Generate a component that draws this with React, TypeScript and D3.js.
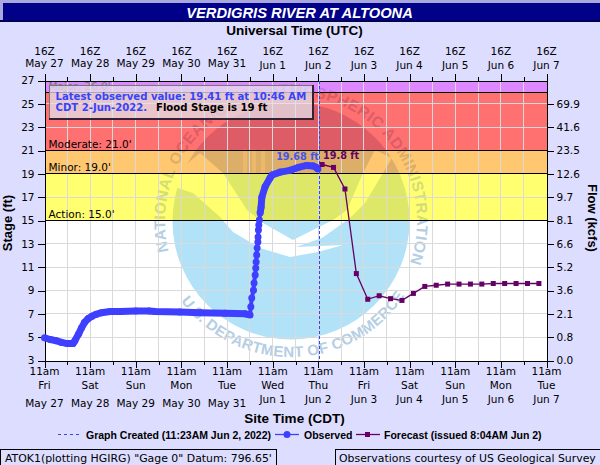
import { useEffect, useRef } from "react";
import * as d3 from "d3";

// hours counted from 11am CDT May 27
const obsHours = [0, 3, 6, 9, 12, 15, 16, 18, 19.5, 21, 23, 25, 27, 30, 34.5, 40, 48, 55, 58, 71, 82, 95, 105.5, 107, 108.1, 108.5, 109, 109.9, 110.2, 110.8, 111.1, 111.3, 111.6, 111.8, 112.2, 112.3, 112.5, 112.7, 113, 113.4, 113.9, 114.3, 116, 118.6, 119.7, 124, 129.2, 133.4, 137.9, 141.3, 143, 143.8];
const obsStage = [4.95, 4.8, 4.7, 4.55, 4.45, 4.45, 4.7, 5.3, 5.8, 6.25, 6.6, 6.8, 6.95, 7.1, 7.2, 7.2, 7.25, 7.25, 7.2, 7.15, 7.1, 7.05, 7.0, 6.95, 6.9, 7.6, 8.35, 9.03, 9.64, 10.32, 10.92, 11.44, 12.04, 12.64, 13.15, 13.58, 14.19, 14.61, 15.04, 15.65, 16.16, 17.0, 17.9, 18.65, 18.9, 19.15, 19.3, 19.55, 19.72, 19.68, 19.55, 19.41];

const fcstHours = [146, 152, 158, 164, 170, 176, 182, 188, 194, 200, 206, 212, 218, 224, 230, 236, 242, 248, 254, 260];
const fcstStage = [19.8, 19.55, 17.7, 10.45, 8.25, 8.55, 8.3, 8.15, 8.75, 9.35, 9.45, 9.55, 9.55, 9.55, 9.55, 9.6, 9.6, 9.6, 9.6, 9.6];

const createdHour = 144.4;

const stageTicks = [3, 5, 7, 9, 11, 13, 15, 17, 19, 21, 23, 25, 27];
const flowLabels = ["0.0", "0.8", "2.1", "3.6", "5.2", "6.6", "8.1", "9.7", "12.6", "23.5", "41.6", "69.9"];

const dayDates = ["May 27", "May 28", "May 29", "May 30", "May 31", "Jun 1", "Jun 2", "Jun 3", "Jun 4", "Jun 5", "Jun 6", "Jun 7"];
const dayNames = ["Fri", "Sat", "Sun", "Mon", "Tue", "Wed", "Thu", "Fri", "Sat", "Sun", "Mon", "Tue"];

const stageNames = ["Major", "Moderate", "Minor", "Action"];
const stageLevels = [26, 21, 19, 15];

const bands = [
  { lo: 26, hi: 27, fill: "#DD88FF", mark: "#C078E4", dome: "#C078E4", disc: "#C078E4" },
  { lo: 21, hi: 26, fill: "#FF7070", mark: "#DD5C66", dome: "#DD5C66", disc: "#DD5C66" },
  { lo: 19, hi: 21, fill: "#FFC870", mark: "#DDAE68", dome: "#DDAE68", disc: "#DDAE68" },
  { lo: 15, hi: 19, fill: "#FFFF70", mark: "#D4DC78", dome: "#DEE868", disc: "#DEE868" },
  { lo: 3, hi: 15, fill: "#FFFFFF", mark: "#B4CEE4", dome: "#B2CBE2", disc: "#B2E2F7" },
];

// NOAA watermark, page pixels
const logoC = { x: 291, y: 221, r: 118.5 };
const swoosh: [number, number][] = [
  [175, 187], [182, 168], [200, 153], [223, 173], [247, 210], [263, 223], [293, 240], [317, 228], [333, 220], [347, 210], [363, 173], [375, 150],
  [392, 158], [365, 203], [350, 218], [322, 238], [296, 247], [343, 245], [318, 252], [290, 257], [260, 248], [233, 232], [220, 217], [193, 193],
];
const logoBars = [243, 252, 261];

const BG = "#DDDDFF";
const FONT = "'DejaVu Sans', sans-serif";
const BOLD = "'Liberation Sans', Arial, sans-serif";

export default function App() {
  const svgRef = useRef<SVGSVGElement>(null);

  useEffect(() => {
    if (!svgRef.current) return;
    const svg = d3.select(svgRef.current);
    svg.selectAll("*").remove();

    const left = 44.5, right = 546.5, top = 80.5, bottom = 360.5;
    const x = d3.scaleLinear().domain([0, 264]).range([left, right]);
    const y = d3.scaleLinear().domain([3, 27]).range([bottom, top]);
    const dayTicks = d3.range(0, 265, 24);
    const halfTicks = d3.range(0, 265, 12);

    svg.append("rect").attr("width", 600).attr("height", 465).attr("fill", BG);

    // title bar
    svg.append("rect").attr("width", 600).attr("height", 3).attr("fill", "#A8A8DC");
    svg.append("rect").attr("width", 3).attr("height", 21).attr("fill", "#A8A8DC");
    svg.append("rect").attr("x", 3).attr("y", 3).attr("width", 597).attr("height", 17).attr("fill", "#000088");
    svg.append("rect").attr("x", 0).attr("y", 20).attr("width", 600).attr("height", 2).attr("fill", "#000050");
    svg.append("text").attr("x", 299.5).attr("y", 17.5).attr("text-anchor", "middle")
      .attr("font-family", BOLD).attr("font-weight", 700).attr("font-style", "italic").attr("font-size", 14.7)
      .attr("fill", "#fff").text("VERDIGRIS RIVER AT ALTOONA");

    // flood bands
    bands.forEach((b) => {
      svg.append("rect").attr("x", left).attr("y", y(b.hi)).attr("width", right - left)
        .attr("height", y(b.lo) - y(b.hi)).attr("fill", b.fill).attr("shape-rendering", "crispEdges");
    });

    // watermark, one pass per band because it tints each band differently
    const defs = svg.append("defs");
    const polar = (r: number, deg: number) => {
      const a = (deg * Math.PI) / 180;
      return [logoC.x + r * Math.sin(a), logoC.y - r * Math.cos(a)];
    };
    const topA = polar(126, -104), topB = polar(126, 112);
    defs.append("path").attr("id", "arcTop").attr("d", `M${topA[0]},${topA[1]} A126,126 0 1 1 ${topB[0]},${topB[1]}`);
    const lowA = polar(136, -126), lowB = polar(136, 122);
    defs.append("path").attr("id", "arcLow").attr("d", `M${lowA[0]},${lowA[1]} A136,136 0 0 0 ${lowB[0]},${lowB[1]}`);

    bands.forEach((b, i) => {
      defs.append("clipPath").attr("id", `band${i}`).append("rect")
        .attr("x", left).attr("y", y(b.hi)).attr("width", right - left).attr("height", y(b.lo) - y(b.hi));
      const g = svg.append("g").attr("clip-path", `url(#band${i})`);
      g.append("circle").attr("cx", logoC.x).attr("cy", logoC.y).attr("r", logoC.r).attr("fill", b.disc);
      g.append("path").attr("d", d3.line()(swoosh)!).attr("fill", b.fill);
      logoBars.forEach((bx) => {
        g.append("rect").attr("x", bx).attr("y", 149).attr("width", 4).attr("height", 24).attr("fill", b.fill).attr("opacity", 0.45);
      });
      const t = g.append("text").attr("font-family", BOLD).attr("font-weight", 700).attr("font-size", 15.5)
        .attr("letter-spacing", 0.5).attr("fill", b.mark);
      t.append("textPath").attr("href", "#arcTop")
        .text("NATIONAL OCEANIC AND ATMOSPHERIC ADMINISTRATION");
      const t2 = g.append("text").attr("font-family", BOLD).attr("font-weight", 700).attr("font-size", 15)
        .attr("letter-spacing", 0.3).attr("fill", b.mark);
      t2.append("textPath").attr("href", "#arcLow")
        .text("U.S. DEPARTMENT OF COMMERCE");
    });

    // grid
    const grid = svg.append("g").attr("stroke", "#DADADA").attr("shape-rendering", "crispEdges").attr("stroke-width", 1);
    halfTicks.slice(1, -1).forEach((h) => {
      grid.append("line").attr("x1", x(h)).attr("x2", x(h)).attr("y1", top).attr("y2", bottom);
    });
    stageTicks.slice(1, -1).forEach((s) => {
      grid.append("line").attr("x1", left).attr("x2", right).attr("y1", y(s)).attr("y2", y(s));
    });

    // stage thresholds
    stageLevels.forEach((s, i) => {
      svg.append("line").attr("x1", left).attr("x2", right).attr("y1", y(s)).attr("y2", y(s))
        .attr("stroke", "#000").attr("stroke-width", 1).attr("shape-rendering", "crispEdges");
      svg.append("text").attr("x", 48.5).attr("y", y(s) - 2.5).attr("font-family", FONT).attr("font-size", 10.5)
        .attr("fill", i === 0 ? "#777" : "#000").text(`${stageNames[i]}: ${s.toFixed(1)}'`);
    });

    // axes
    const styleAxis = (g: d3.Selection<SVGGElement, unknown, null, undefined>) => {
      g.selectAll("text").attr("font-family", FONT).attr("font-size", 10.5).attr("fill", "#000");
      g.selectAll("path,line").attr("stroke", "#000").attr("shape-rendering", "crispEdges");
    };
    svg.append<SVGGElement>("g").attr("transform", `translate(${left},0)`)
      .call(d3.axisLeft(y).tickValues(stageTicks).tickSize(7).tickSizeOuter(0).tickPadding(3).tickFormat((d) => String(d)))
      .call(styleAxis);
    svg.append<SVGGElement>("g").attr("transform", `translate(${right},0)`)
      .call(d3.axisRight(y).tickValues(stageTicks.slice(0, -1)).tickSize(7).tickSizeOuter(0).tickPadding(3).tickFormat((_, i) => flowLabels[i]))
      .call(styleAxis);
    const hAxis = (gen: d3.Axis<d3.NumberValue>, yPos: number) => {
      svg.append<SVGGElement>("g").attr("transform", `translate(0,${yPos})`)
        .call(gen.tickValues(halfTicks).tickSize(4).tickSizeOuter(0).tickFormat(() => ""))
        .call(styleAxis);
      svg.append<SVGGElement>("g").attr("transform", `translate(0,${yPos})`)
        .call(gen.tickValues(dayTicks).tickSize(7).tickSizeOuter(0).tickFormat(() => ""))
        .call(styleAxis);
    };
    hAxis(d3.axisTop(x), top);
    hAxis(d3.axisBottom(x), bottom);

    const label = (tx: number, ty: number, s: string) =>
      svg.append("text").attr("x", tx).attr("y", ty).attr("text-anchor", "middle")
        .attr("font-family", FONT).attr("font-size", 10.5).attr("fill", "#000").text(s);
    dayTicks.forEach((h, i) => {
      const isMay = dayDates[i].startsWith("May");
      label(x(h), 55, "16Z");
      label(x(h), isMay ? 67 : 69, dayDates[i]);
      label(x(h), 375, "11am");
      label(x(h), 389, dayNames[i]);
      label(x(h), isMay ? 407 : 403, dayDates[i]);
    });

    const boldText = (tx: number, ty: number, s: string, size: number, anchor = "start") =>
      svg.append("text").attr("x", tx).attr("y", ty).attr("text-anchor", anchor)
        .attr("font-family", BOLD).attr("font-weight", 700).attr("font-size", size).attr("fill", "#000").text(s);
    boldText(294.5, 35, "Universal Time (UTC)", 13.5, "middle");
    boldText(294.5, 423, "Site Time (CDT)", 13.5, "middle");
    boldText(0, 0, "Stage (ft)", 13, "middle").attr("transform", "translate(12,223) rotate(-90)");
    boldText(0, 0, "Flow (kcfs)", 13, "middle").attr("transform", "translate(588,218) rotate(90)");

    // graph created marker
    svg.append("line").attr("x1", x(createdHour)).attr("x2", x(createdHour)).attr("y1", top).attr("y2", bottom)
      .attr("stroke", "#3344FF").attr("stroke-width", 1).attr("stroke-dasharray", "3,2").attr("shape-rendering", "crispEdges");

    // observed: dense readings merge into a thick band except on the fast rise
    const BLUE = "#3F3FFF";
    const obs = obsHours.map((h, i) => [x(h), y(obsStage[i])] as [number, number]);
    const thick = (pts: [number, number][]) =>
      svg.append("path").attr("d", d3.line()(pts)!).attr("fill", "none").attr("stroke", BLUE)
        .attr("stroke-width", 7).attr("stroke-linejoin", "round");
    thick(obs.slice(0, 25));
    thick(obs.slice(39));
    svg.append("path").attr("d", d3.line()(obs.slice(24, 40))!).attr("fill", "none").attr("stroke", BLUE).attr("stroke-width", 4);
    obs.forEach(([cx, cy]) => {
      svg.append("circle").attr("cx", cx).attr("cy", cy).attr("r", 3.5).attr("fill", BLUE);
    });

    // forecast
    const PURPLE = "#660066";
    const fcst = fcstHours.map((h, i) => [x(h), y(fcstStage[i])] as [number, number]);
    svg.append("path").attr("d", d3.line()(fcst)!).attr("fill", "none").attr("stroke", PURPLE).attr("stroke-width", 1.3);
    fcst.forEach(([cx, cy]) => {
      svg.append("rect").attr("x", cx - 2.5).attr("y", cy - 2.5).attr("width", 5).attr("height", 5).attr("fill", PURPLE);
    });

    // point labels
    svg.append("text").attr("x", 319).attr("y", 160).attr("text-anchor", "end").attr("font-family", FONT)
      .attr("font-weight", 700).attr("font-size", 9.7).attr("fill", "#4455EE").text("19.68 ft");
    svg.append("text").attr("x", 323).attr("y", 159).attr("font-family", FONT)
      .attr("font-weight", 700).attr("font-size", 9.7).attr("fill", PURPLE).text("19.8 ft");

    // latest value box
    svg.append("rect").attr("x", 49.5).attr("y", 85.5).attr("width", 263).attr("height", 33)
      .attr("fill", "rgb(225,225,235)").attr("fill-opacity", 0.75).attr("stroke", "#777").attr("shape-rendering", "crispEdges");
    svg.append("path").attr("d", "M313,85V119H49").attr("fill", "none").attr("stroke", "#332233").attr("stroke-width", 2).attr("shape-rendering", "crispEdges");
    const boxFont = (s: d3.Selection<SVGTextElement, unknown, null, undefined>) =>
      s.attr("font-family", FONT).attr("font-weight", 700).attr("font-size", 10.1).attr("fill", "#3344FF");
    svg.append("text").attr("x", 55.5).attr("y", 100).call(boxFont).text("Latest observed value: 19.41  ft at 10:46 AM");
    const line2 = svg.append("text").attr("x", 55.5).attr("y", 111).call(boxFont);
    line2.append("tspan").text("CDT 2-Jun-2022.");
    line2.append("tspan").attr("x", 156).attr("fill", "#000").text("Flood Stage is 19 ft");

    // legend
    const LEG = 434.5;
    svg.append("line").attr("x1", 58).attr("x2", 80).attr("y1", LEG).attr("y2", LEG)
      .attr("stroke", "#3344FF").attr("stroke-dasharray", "3,3").attr("shape-rendering", "crispEdges");
    boldText(86, 438.5, "Graph Created (11:23AM Jun 2, 2022)", 10.5);
    svg.append("line").attr("x1", 275).attr("x2", 299).attr("y1", LEG).attr("y2", LEG).attr("stroke", BLUE).attr("stroke-width", 1.3);
    svg.append("circle").attr("cx", 287).attr("cy", LEG).attr("r", 3.5).attr("fill", BLUE);
    boldText(304, 438.5, "Observed", 10.5);
    svg.append("line").attr("x1", 356).attr("x2", 380).attr("y1", LEG).attr("y2", LEG).attr("stroke", PURPLE).attr("stroke-width", 1.3);
    svg.append("rect").attr("x", 365).attr("y", LEG - 2.5).attr("width", 5).attr("height", 5).attr("fill", PURPLE);
    boldText(384, 438.5, "Forecast (issued 8:04AM Jun 2)", 10.5);

    // footer boxes
    svg.append("rect").attr("x", 0.5).attr("y", 449.5).attr("width", 276).attr("height", 16).attr("fill", BG).attr("stroke", "#000").attr("shape-rendering", "crispEdges");
    svg.append("text").attr("x", 5).attr("y", 462).attr("font-family", FONT).attr("font-size", 10.9).attr("fill", "#000")
      .text(`ATOK1(plotting HGIRG) "Gage 0" Datum: 796.65'`);
    svg.append("rect").attr("x", 335.5).attr("y", 449.5).attr("width", 265).attr("height", 16).attr("fill", BG).attr("stroke", "#000").attr("shape-rendering", "crispEdges");
    svg.append("text").attr("x", 339).attr("y", 462).attr("font-family", FONT).attr("font-size", 10.9).attr("fill", "#000")
      .text("Observations courtesy of US Geological Survey");
  }, []);

  return (
    <svg ref={svgRef} width={600} height={465} style={{ position: "absolute", left: 0, top: 0 }} />
  );
}
